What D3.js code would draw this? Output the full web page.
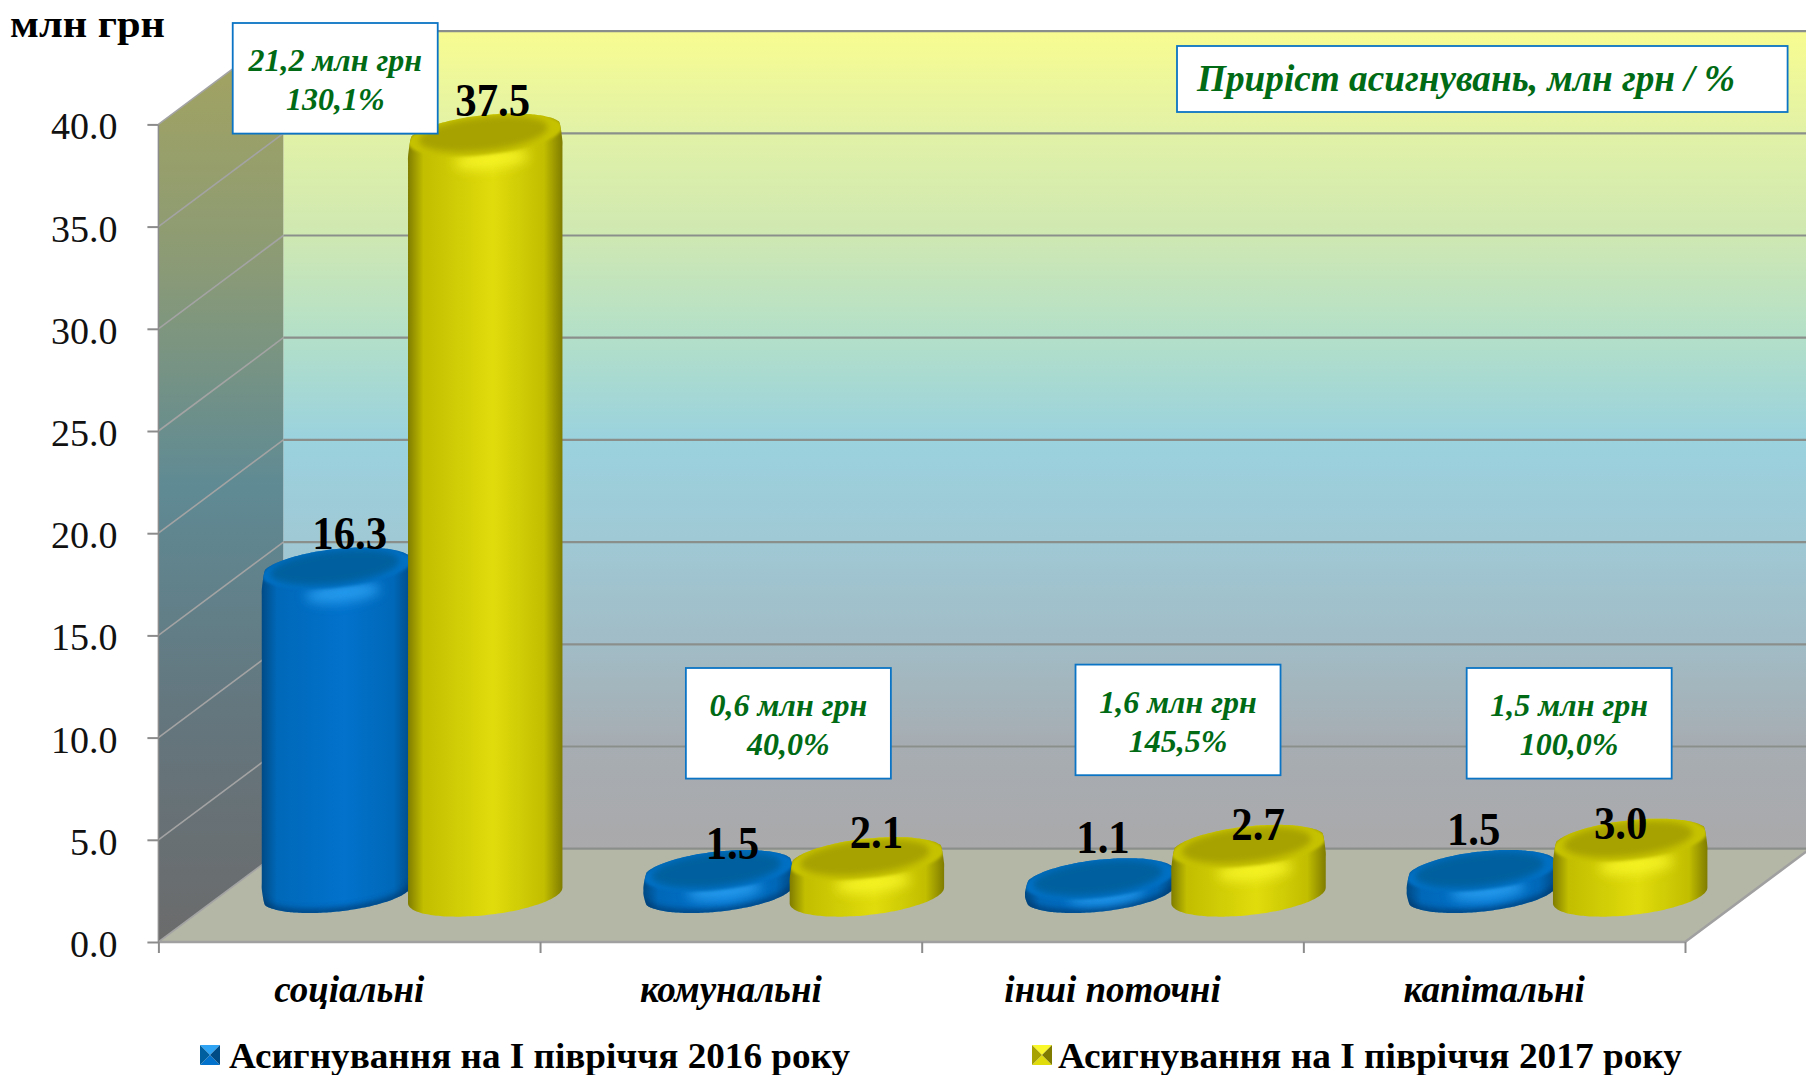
<!DOCTYPE html>
<html>
<head>
<meta charset="utf-8">
<script src="https://cdn.jsdelivr.net/npm/d3@7"></script>
<style>
  html, body { margin: 0; background: #fff; }
  svg { display: block; }
  text { font-family: "Liberation Serif", serif; }
</style>
</head>
<body>
<div id="main"></div>
<script>
// chart data
const categories = ['соціальні', 'комунальні', 'інші поточні', 'капітальні'];
const seriesNames = ['Асигнування на І півріччя 2016 року', 'Асигнування на І півріччя 2017 року'];
const values2016 = [16.3, 1.5, 1.1, 1.5];
const values2017 = [37.5, 2.1, 2.7, 3.0];
const yTicks = [0, 5, 10, 15, 20, 25, 30, 35, 40];
const calloutAmounts = ['21,2 млн грн', '0,6 млн грн', '1,6 млн грн', '1,5 млн грн'];
const calloutPercents = ['130,1%', '40,0%', '145,5%', '100,0%'];
const yUnit = 'млн грн';
const noteText = 'Приріст асигнувань, млн грн / %';

// layout, in page pixels
const width = 1806;
const height = 1075;
const x0 = 158.4; // front left corner of the floor
const x1 = 1685; // front right corner of the floor
const yBottom = 942; // value 0 on the front plane
const yTop = 124.4; // value 40 on the front plane
const depthX = 125; // how far the back wall is shifted to the right
const depthY = 93.3; // and up
const halfDepthX = 27.6; // half of a cylinder's depth along the depth direction
const halfDepthY = 20.7;
const cylRadius = 69.7;
const topDrop = 6; // the rounded top sits a little under the value level
const calloutTops = [23, 668, 664.6, 668];
const calloutShift = [-14, 57.5, 65.5, 75]; // against the middle of the category
const calloutSize = [205, 110.6];
// nudges of the value labels against the middle of the cylinder top: [dx, dy]
const labelNudge2016 = [[13, -13], [14, -6], [3, -20], [-8, -20]];
const labelNudge2017 = [[6, -13], [8, -4], [8, 0], [-11, 5]];

const colors = {
  blue: { edge: '#004a85', side: '#0068b8', mid: '#0272cc', face: '#00609f', rim: '#0470c4', glow: '#2fa4f5', shade: '#013a70', grow: 1, shift: 0 },
  yellow: { edge: '#7f7c00', side: '#c2be00', mid: '#e0dc0c', face: '#a7a200', rim: '#c6c200', glow: '#faf82a', shade: null, grow: 1.03, shift: -1.5 }
};
const wallStops = [
  [0, '#f8fc90'], [0.12, '#e2f2a6'], [0.25, '#cfe8b2'], [0.37, '#b4e0c8'], [0.5, '#9ad2de'],
  [0.62, '#9fc9d5'], [0.75, '#a1bcc6'], [0.87, '#a6adb2'], [1, '#aaa9ab']
];
const sideStops = [[0, '#a5a45e'], [0.25, '#8c9b75'], [0.5, '#5f8a94'], [0.75, '#64767e'], [1, '#6b6b6b']];

const y = d3.scaleLinear().domain([0, 40]).range([yBottom, yTop]);
const x = d3.scaleBand().domain(categories).range([x0, x1]);
const xEdge = d3.scaleLinear().domain([0, categories.length]).range([x0, x1]);
const xSeries = d3.scaleBand().domain(seriesNames).range([0, x.bandwidth()]).paddingOuter(0.272);

const svg = d3.select('#main').append('svg').attr('width', width).attr('height', height);
const defs = svg.append('defs');

function verticalGradient(id, stops) {
  const g = defs.append('linearGradient').attr('id', id).attr('x1', 0).attr('x2', 0).attr('y1', 0).attr('y2', 1);
  stops.forEach(s => g.append('stop').attr('offset', s[0]).attr('stop-color', s[1]));
}
verticalGradient('wall', wallStops);
verticalGradient('side', sideStops);

Object.keys(colors).forEach(k => {
  const c = colors[k];
  const g = defs.append('linearGradient').attr('id', `body_${k}`);
  [[0, c.edge], [0.1, c.side], [0.55, c.mid], [0.88, c.side], [1, c.edge]]
    .forEach(s => g.append('stop').attr('offset', s[0]).attr('stop-color', s[1]));
});
[1.5, 3, 6].forEach(s => {
  defs.append('filter').attr('id', `blur${s * 10}`)
    .attr('x', '-30%').attr('y', '-60%').attr('width', '160%').attr('height', '220%')
    .append('feGaussianBlur').attr('stdDeviation', s);
});

const line = d3.line();
const closed = d3.line().curve(d3.curveLinearClosed);
const smooth = d3.line().curve(d3.curveCatmullRomClosed.alpha(0.5));

// walls and floor
const yFrontBack = yBottom - depthY;
svg.append('path').attr('fill', 'url(#wall)')
  .attr('d', closed([[x0 + depthX, y(40) - depthY], [x1 + depthX, y(40) - depthY], [x1 + depthX, yFrontBack], [x0 + depthX, yFrontBack]]));
svg.append('path').attr('fill', 'url(#side)')
  .attr('d', closed([[x0, y(40)], [x0 + depthX, y(40) - depthY], [x0 + depthX, yFrontBack], [x0, yBottom]]));
svg.append('path').attr('fill', '#b4b7a6')
  .attr('d', closed([[x0, yBottom], [x1, yBottom], [x1 + depthX, yFrontBack], [x0 + depthX, yFrontBack]]));

// gridlines on both walls
const grid = svg.append('g');
grid.selectAll('line.back').data(yTicks).enter().append('line')
  .attr('x1', x0 + depthX).attr('x2', x1 + depthX)
  .attr('y1', d => y(d) - depthY).attr('y2', d => y(d) - depthY)
  .attr('stroke', '#8b8f8b').attr('stroke-width', 2.2);
grid.selectAll('line.side').data(yTicks).enter().append('line')
  .attr('x1', x0).attr('x2', x0 + depthX)
  .attr('y1', d => y(d)).attr('y2', d => y(d) - depthY)
  .attr('stroke', '#a3a3a3').attr('stroke-width', 1.6);
grid.append('path').attr('fill', 'none').attr('stroke', '#a0a0a0').attr('stroke-width', 2.5)
  .attr('d', line([[x0, yBottom], [x1, yBottom], [x1 + depthX, yFrontBack]]));

// axes
const yAxis = svg.append('g').attr('transform', `translate(${x0},0)`)
  .call(d3.axisLeft(y).tickValues(yTicks).tickFormat(d3.format('.1f')).tickSize(11).tickPadding(30));
yAxis.selectAll('text').attr('font-size', 38).attr('dy', '0.38em').attr('font-family', '"Liberation Serif", serif').attr('fill', '#111');
yAxis.selectAll('line').attr('stroke', '#8c8c8c').attr('stroke-width', 2);
yAxis.select('.domain').attr('stroke', '#8c8c8c').attr('stroke-width', 1.5).attr('d', line([[0, yTop], [0, yBottom]]));

const xTicks = svg.append('g').attr('transform', `translate(0,${yBottom})`)
  .call(d3.axisBottom(xEdge).tickValues(d3.range(categories.length + 1)).tickFormat('').tickSize(11));
xTicks.selectAll('line').attr('stroke', '#8c8c8c').attr('stroke-width', 2);
xTicks.select('.domain').remove();

const xAxis = svg.append('g').attr('transform', `translate(0,${yBottom})`)
  .call(d3.axisBottom(x).tickSize(0).tickPadding(34));
xAxis.select('.domain').remove();
xAxis.selectAll('text').attr('font-size', 37).attr('font-family', '"Liberation Serif", serif')
  .attr('font-weight', 'bold').attr('font-style', 'italic').attr('fill', '#000');

// one point on the slanted circle of a cylinder
function rimPoint(cx, cy, t, s) {
  return [
    cx + s * (cylRadius * Math.cos(t) + halfDepthX * Math.sin(t)),
    cy - s * halfDepthY * Math.sin(t)
  ];
}
function rimArc(cx, cy, from, to, s) {
  return d3.range(0, 49).map(i => rimPoint(cx, cy, from + (to - from) * i / 48, s));
}
// points down a straight side, close together so the smooth curve does not bulge
function sidePoints(px, from, to) {
  const n = Math.max(2, Math.ceil(Math.abs(to - from) / 6));
  return d3.range(0, n + 1).map(i => [px, from + (to - from) * i / n]);
}
const tangent = Math.atan2(halfDepthX, cylRadius); // angle of the widest point

let clipCount = 0;
function drawCylinder(parent, xMid, value, kind) {
  const c = colors[kind];
  const cx = xMid + c.shift;
  const g0 = c.grow;
  const midY = -depthY / 2;
  const topY = y(value) + midY + topDrop;
  const baseY = y(0) + midY;
  const barHeight = baseY - topY;
  const bevel = Math.min(26, barHeight * 0.6 + 6);
  const shoulder = Math.min(14, barHeight * 0.35); // rounding of the top edge
  const right = rimPoint(cx, 0, tangent, g0);
  const left = rimPoint(cx, 0, tangent + Math.PI, g0);
  const footInset = c.shade ? shoulder : 0; // blue cylinders are rounded at the bottom as well
  const foot = c.shade
    ? rimArc(cx, baseY - 3, tangent + Math.PI + 0.3, tangent + 2 * Math.PI - 0.3, g0)
    : rimArc(cx, baseY, tangent + Math.PI, tangent + 2 * Math.PI, g0);
  const outline = rimArc(cx, topY, tangent + 0.3, tangent + Math.PI - 0.3, g0)
    .concat(sidePoints(left[0], topY + left[1] + shoulder, baseY + left[1] - footInset))
    .concat(foot)
    .concat(sidePoints(right[0], baseY + right[1] - footInset, topY + right[1] + shoulder));
  const id = `cyl_${clipCount++}`;
  defs.append('clipPath').attr('id', id).append('path').attr('d', smooth(outline));
  const g = parent.append('g');
  g.append('path').attr('d', smooth(outline)).attr('fill', `url(#body_${kind})`);
  const inner = g.append('g').attr('clip-path', `url(#${id})`);
  if (c.shade) {
    inner.append('path').attr('fill', 'none').attr('stroke', c.shade).attr('stroke-width', 7)
      .attr('filter', 'url(#blur30)').attr('opacity', 0.85)
      .attr('d', line(rimArc(cx, baseY - 3, tangent + Math.PI, tangent + 2 * Math.PI, g0)));
  }
  // soft highlight just under the front of the rim
  inner.append('path').attr('fill', c.glow).attr('opacity', 0.8).attr('filter', 'url(#blur60)')
    .attr('d', closed(rimArc(cx + 6, topY + bevel * 0.95, 0, 2 * Math.PI, 0.5)));
  inner.append('path').attr('fill', c.rim).attr('filter', 'url(#blur15)')
    .attr('d', closed(rimArc(cx, topY, 0, 2 * Math.PI, g0)));
  inner.append('path').attr('fill', c.face).attr('filter', 'url(#blur30)')
    .attr('d', closed(rimArc(cx - 2, topY - 1, 0, 2 * Math.PI, 0.86)));
}

const bars = svg.append('g');
categories.forEach((cat, i) => {
  const left = x(cat) + depthX / 2;
  drawCylinder(bars, left + xSeries(seriesNames[0]) + xSeries.bandwidth() / 2, values2016[i], 'blue');
  drawCylinder(bars, left + xSeries(seriesNames[1]) + xSeries.bandwidth() / 2, values2017[i], 'yellow');
});

// squeezes text a bit, the source picture has narrow letters
function squeeze(sel, k) {
  sel.each(function () {
    d3.select(this).attr('textLength', this.getComputedTextLength() * k).attr('lengthAdjust', 'spacingAndGlyphs');
  });
}

// value labels
const labels = svg.append('g').attr('font-size', 46).attr('font-weight', 'bold').attr('text-anchor', 'middle');
[[values2016, labelNudge2016, 0], [values2017, labelNudge2017, 1]].forEach(([vals, nudge, s]) => {
  labels.selectAll(`text.s${s}`).data(vals).enter().append('text').attr('class', `s${s}`)
    .attr('x', (d, i) => x(categories[i]) + depthX / 2 + xSeries(seriesNames[s]) + xSeries.bandwidth() / 2 + nudge[i][0])
    .attr('y', (d, i) => y(d) - depthY / 2 + nudge[i][1])
    .text(d => d.toFixed(1));
});
squeeze(labels.selectAll('text'), 0.93);

// callout boxes with the increase for each category
const green = '#006b14';
const callouts = svg.append('g').selectAll('g').data(categories).enter().append('g')
  .attr('transform', (d, i) => `translate(${x(d) + x.bandwidth() / 2 + calloutShift[i]},${calloutTops[i]})`);
callouts.append('rect')
  .attr('x', -calloutSize[0] / 2).attr('width', calloutSize[0]).attr('height', calloutSize[1])
  .attr('fill', '#fff').attr('stroke', '#0b74c4').attr('stroke-width', 1.8);
callouts.append('text').attr('y', 48).attr('text-anchor', 'middle').attr('font-size', 32)
  .attr('font-weight', 'bold').attr('font-style', 'italic').attr('fill', green)
  .text((d, i) => calloutAmounts[i]);
callouts.append('text').attr('y', 87).attr('text-anchor', 'middle').attr('font-size', 32)
  .attr('font-weight', 'bold').attr('font-style', 'italic').attr('fill', green)
  .text((d, i) => calloutPercents[i]);

// note in the top right corner
svg.append('rect').attr('x', 1177).attr('y', 46).attr('width', 610.6).attr('height', 66)
  .attr('fill', '#fff').attr('stroke', '#0b74c4').attr('stroke-width', 1.8);
svg.append('text').attr('x', 1197).attr('y', 91).attr('font-size', 38)
  .attr('font-weight', 'bold').attr('font-style', 'italic').attr('fill', green)
  .attr('textLength', 538).attr('lengthAdjust', 'spacingAndGlyphs').text(noteText);

// unit
svg.append('text').attr('x', 10).attr('y', 37).attr('font-size', 38).attr('font-weight', 'bold')
  .attr('textLength', 155).attr('lengthAdjust', 'spacingAndGlyphs').text(yUnit);

// legend
const legendX = [200, 1032];
const legendW = [621, 624];
const legend = svg.append('g').selectAll('g').data(seriesNames).enter().append('g')
  .attr('transform', (d, i) => `translate(${legendX[i]},1045)`);
const keyKinds = ['blue', 'yellow'];
legend.each(function (d, i) {
  const c = colors[keyKinds[i]];
  const k = d3.select(this);
  const s = 20;
  k.append('path').attr('fill', c.glow).attr('d', closed([[0, 0], [s, 0], [s / 2, s / 2]]));
  k.append('path').attr('fill', c.mid).attr('d', closed([[0, s], [s, s], [s / 2, s / 2]]));
  k.append('path').attr('fill', c.face).attr('d', closed([[0, 0], [0, s], [s / 2, s / 2]]));
  k.append('path').attr('fill', c.edge).attr('d', closed([[s, 0], [s, s], [s / 2, s / 2]]));
});
legend.append('text').attr('x', (d, i) => i === 0 ? 29 : 26).attr('y', 23).attr('font-size', 35).attr('font-weight', 'bold')
  .attr('textLength', (d, i) => legendW[i]).attr('lengthAdjust', 'spacingAndGlyphs').text(d => d);
</script>
</body>
</html>
